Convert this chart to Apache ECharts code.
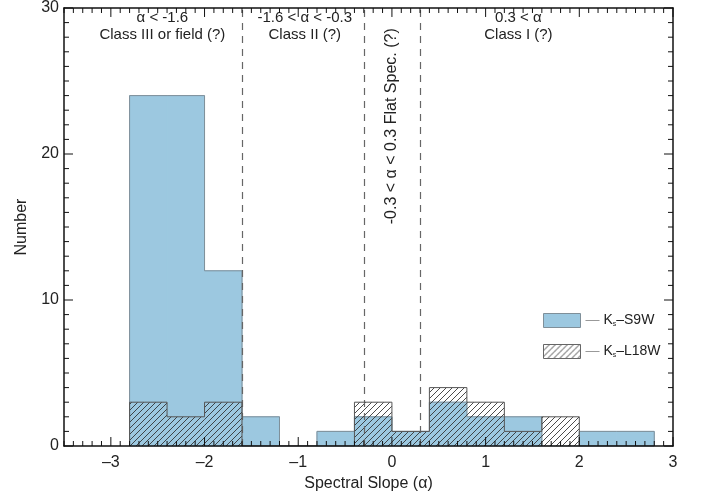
<!DOCTYPE html>
<html>
<head>
<meta charset="utf-8">
<script src="https://cdn.jsdelivr.net/npm/echarts@6/dist/echarts.min.js"></script>
<style>
html,body{margin:0;padding:0;background:#fff;}
#chart{width:702px;height:497px;}
</style>
</head>
<body>
<div id="chart"></div>
<script>
// ---- data ----
const binEdges = [-2.8, -2.4, -2.0, -1.6, -1.2, -0.8, -0.4, 0.0, 0.4, 0.8, 1.2, 1.6, 2.0, 2.4, 2.8];
const s9wCounts = [24, 24, 12, 2, 0, 1, 2, 1, 3, 2, 2, 0, 1, 1];
const l18wCounts = [3, 2, 3, 0, 0, 0, 3, 1, 4, 3, 1, 2, 0, 0];
const xTickValues = [-3, -2, -1, 0, 1, 2, 3];
const yTickValues = [0, 10, 20, 30];
const classBoundaries = [-1.6, -0.3, 0.3];
const annX = [-2.45, -0.93, 1.35];
const annY = [28.75, 28.75, 28.75];
const annText = ['α < -1.6\nClass III or field (?)', '-1.6 < α < -0.3\nClass II (?)', '0.3 < α\nClass I (?)'];
const flatX = [0.0];
const flatY = [21.9];
const flatText = ['-0.3 < α < 0.3 Flat Spec. (?)'];
const seriesNames = ['Ks-S9W', 'Ks-L18W'];

// axis ranges
const X_MIN = -3.5, X_MAX = 3, Y_MIN = 0, Y_MAX = 30;
const X_MINOR_STEP = 0.1, Y_MINOR_STEP = 1;

// ---- layout / style ----
const W = 702, H = 497;
const GRID = { left: 64, right: 29, top: 7, bottom: 51 };
const FONT = '"Liberation Sans", Arial, sans-serif';
const BLUE = '#9cc8e0';
const MAJOR_LEN = 9, MINOR_LEN = 5;
const PX_PER_X = (W - GRID.left - GRID.right) / (X_MAX - X_MIN);
const PX_PER_Y = (H - GRID.top - GRID.bottom) / (Y_MAX - Y_MIN);

function makeHatch(bg) {
  const c = document.createElement('canvas');
  c.width = 6; c.height = 6;
  const ctx = c.getContext('2d');
  if (bg) { ctx.fillStyle = bg; ctx.fillRect(0, 0, 6, 6); }
  ctx.strokeStyle = 'rgba(45,45,45,0.85)';
  ctx.lineWidth = 1;
  ctx.beginPath();
  ctx.moveTo(-1, 7); ctx.lineTo(7, -1);
  ctx.moveTo(-4, 4); ctx.lineTo(4, -4);
  ctx.moveTo(2, 10); ctx.lineTo(10, 2);
  ctx.stroke();
  return c;
}
const hatchPattern = { image: makeHatch(null), repeat: 'repeat' };
const hatchLegend = { image: makeHatch('#ffffff'), repeat: 'repeat' };

function histData(counts) {
  return counts.map((c, i) => [binEdges[i], binEdges[i + 1], c]);
}
function stepData(counts) {
  const d = [[binEdges[0], 0]];
  counts.forEach((c, i) => d.push([binEdges[i], c]));
  d.push([binEdges[binEdges.length - 1], 0]);
  return d;
}
function rectRender(fill, seam) {
  return function (params, api) {
    const c = api.value(2);
    if (!c) return null;
    const p0 = api.coord([api.value(0), 0]);
    const p1 = api.coord([api.value(1), c]);
    return {
      type: 'rect',
      shape: { x: p0[0], y: p1[1], width: p1[0] - p0[0], height: p0[1] - p1[1] },
      style: seam ? { fill: fill, stroke: fill, lineWidth: 1 } : { fill: fill, stroke: null }
    };
  };
}
function textRender(rot, size) {
  return function (params, api) {
    const p = api.coord([api.value(0), api.value(1)]);
    return {
      type: 'text',
      x: p[0], y: p[1],
      rotation: rot,
      style: {
        text: (rot ? flatText : annText)[params.dataIndex],
        fill: '#222',
        font: size + 'px ' + FONT,
        align: 'center',
        verticalAlign: 'middle',
        lineHeight: 17
      }
    };
  };
}

// tick positions: majors from the tick arrays, minors every step
function minorTicks(min, max, step, majors) {
  const out = [];
  const n = Math.round((max - min) / step);
  for (let i = 0; i <= n; i++) {
    const v = +(min + i * step).toFixed(6);
    if (!majors.some(m => Math.abs(m - v) < 1e-6)) out.push(v);
  }
  return out;
}
const xTicks = xTickValues.map(v => [v, MAJOR_LEN]).concat(minorTicks(X_MIN, X_MAX, X_MINOR_STEP, xTickValues).map(v => [v, MINOR_LEN]));
const yTicks = yTickValues.map(v => [v, MAJOR_LEN]).concat(minorTicks(Y_MIN, Y_MAX, Y_MINOR_STEP, yTickValues).map(v => [v, MINOR_LEN]));

// inward tick segments on all four sides, as one broken polyline
const GAP = ['-', '-'];
const tickLine = [];
xTicks.forEach(([v, len]) => {
  const dy = len / PX_PER_Y;
  tickLine.push([v, Y_MIN], [v, Y_MIN + dy], GAP);
  tickLine.push([v, Y_MAX], [v, Y_MAX - dy], GAP);
});
yTicks.forEach(([v, len]) => {
  const dx = len / PX_PER_X;
  tickLine.push([X_MIN, v], [X_MIN + dx, v], GAP);
  tickLine.push([X_MAX, v], [X_MAX - dx, v], GAP);
});

const chart = echarts.init(document.getElementById('chart'), null, { renderer: 'canvas' });

const axisLineStyle = () => ({ show: true, onZero: false, lineStyle: { color: '#111', width: 1.5 } });
const xAx = (pos, labels) => ({
  type: 'value', gridIndex: 0, position: pos, min: X_MIN, max: X_MAX, z: 10,
  axisLine: axisLineStyle(),
  axisTick: { show: false },
  axisLabel: labels ? {
    show: true, customValues: xTickValues, margin: 9, fontSize: 16, color: '#222', fontFamily: FONT,
    formatter: v => String(v).replace('-', '–')
  } : { show: false },
  splitLine: { show: false },
  name: labels ? 'Spectral Slope (α)' : '',
  nameLocation: 'middle', nameGap: 27,
  nameTextStyle: { fontSize: 16, color: '#222', fontFamily: FONT }
});
const yAx = (pos, labels) => ({
  type: 'value', gridIndex: 0, position: pos, min: Y_MIN, max: Y_MAX, interval: 10, z: 10,
  axisLine: axisLineStyle(),
  axisTick: { show: false },
  axisLabel: labels ? { show: true, margin: 5, fontSize: 16, color: '#222', fontFamily: FONT } : { show: false },
  splitLine: { show: false },
  name: labels ? 'Number' : '',
  nameLocation: 'middle', nameGap: 34,
  nameTextStyle: { fontSize: 16, color: '#222', fontFamily: FONT }
});

const option = {
  animation: false,
  backgroundColor: '#fff',
  grid: { left: GRID.left, right: GRID.right, top: GRID.top, bottom: GRID.bottom, containLabel: false },
  xAxis: [xAx('bottom', true), xAx('top', false)],
  yAxis: [yAx('left', true), yAx('right', false)],
  legend: {
    show: true, orient: 'vertical', left: 543, top: 313, padding: 0,
    itemWidth: 37, itemHeight: 14, itemGap: 16, selectedMode: false,
    data: [
      { name: seriesNames[0], icon: 'rect', itemStyle: { color: BLUE, borderColor: '#7f8f99', borderWidth: 1 } },
      { name: seriesNames[1], icon: 'rect', itemStyle: { color: hatchLegend, borderColor: '#666', borderWidth: 1 } }
    ],
    formatter: function (name) {
      const rest = name === seriesNames[0] ? '–S9W' : '–L18W';
      return '{d|— }K{s|s}' + rest;
    },
    textStyle: {
      fontSize: 14, color: '#222', fontFamily: FONT,
      rich: {
        d: { fontSize: 14, color: '#999', fontFamily: FONT },
        s: { fontSize: 7, color: '#222', fontFamily: FONT, padding: [8, 0, 0, 0] }
      }
    }
  },
  series: [
    {
      name: seriesNames[0], type: 'custom', xAxisIndex: 0, yAxisIndex: 0,
      renderItem: rectRender(BLUE, true), data: histData(s9wCounts),
      itemStyle: { color: BLUE }, z: 2, silent: true,
      markLine: {
        silent: true, symbol: 'none', label: { show: false },
        lineStyle: { color: '#666', type: [7, 6], width: 1.2 },
        data: classBoundaries.map(v => ({ xAxis: v }))
      }
    },
    {
      name: 'S9W outline', type: 'line', xAxisIndex: 0, yAxisIndex: 0, step: 'end',
      data: stepData(s9wCounts), symbol: 'none', z: 3, silent: true,
      lineStyle: { color: '#7f8f99', width: 1 }
    },
    {
      name: seriesNames[1], type: 'custom', xAxisIndex: 0, yAxisIndex: 0,
      renderItem: rectRender(hatchPattern, false), data: histData(l18wCounts),
      itemStyle: { color: '#888' }, z: 4, silent: true
    },
    {
      name: 'L18W outline', type: 'line', xAxisIndex: 0, yAxisIndex: 0, step: 'end',
      data: stepData(l18wCounts), symbol: 'none', z: 5, silent: true,
      lineStyle: { color: '#555', width: 1 }
    },
    {
      name: 'annotations', type: 'custom', xAxisIndex: 0, yAxisIndex: 0,
      renderItem: textRender(0, 15), data: annX.map((x, i) => [x, annY[i]]), z: 6, silent: true
    },
    {
      name: 'flat', type: 'custom', xAxisIndex: 0, yAxisIndex: 0,
      renderItem: textRender(Math.PI / 2, 16), data: flatX.map((x, i) => [x, flatY[i]]), z: 6, silent: true
    },
    {
      name: 'ticks', type: 'line', xAxisIndex: 0, yAxisIndex: 0,
      data: tickLine, symbol: 'none', showSymbol: false, connectNulls: false,
      z: 12, silent: true, clip: false,
      lineStyle: { color: '#111', width: 1 }
    }
  ]
};
chart.setOption(option);
</script>
</body>
</html>
